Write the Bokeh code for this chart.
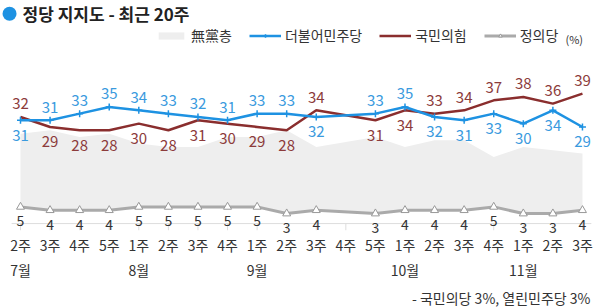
from bokeh.plotting import figure
from bokeh.models import Range1d, Legend, LegendItem, Label, ColumnDataSource
from bokeh.core.properties import value
from bokeh.embed import file_html
from bokeh.resources import INLINE

weeks = ["2주", "3주", "4주", "5주", "1주", "2주", "3주", "4주", "1주", "2주",
         "3주", "4주", "5주", "1주", "2주", "3주", "4주", "1주", "2주", "3주"]
months = ["7월", "", "", "", "8월", "", "", "", "9월", "", "",
          "", "", "10월", "", "", "", "11월", "", ""]
minju = [31, 31, 33, 35, 34, 33, 32, 31, 33, 33, 32, None, 33, 35, 32, 31, 33, 30, 34, 29]
ppp = [32, 29, 28, 28, 30, 28, 31, 30, 29, 28, 34, None, 31, 34, 33, 34, 37, 38, 36, 39]
justice = [5, 4, 4, 4, 5, 5, 5, 5, 5, 3, 4, None, 3, 4, 4, 4, 5, 3, 3, 4]
nonparty = [27, 28, 26, 27, 24, 23, 23, 26, 26, 28, 23, None, 26, 23, 25, 25, 20, 23, 22, 21]

FONT = "Noto Sans CJK KR"
BLUE = "#1e92e2"
BLUE_T = "#3a9ade"
RED = "#8a2e2e"
RED_T = "#8c3b3b"
GRAY = "#aaaaaa"

idx = list(range(len(weeks)))
valid = [i for i in idx if minju[i] is not None]

src = ColumnDataSource(dict(
    x=valid,
    minju=[minju[i] for i in valid],
    ppp=[ppp[i] for i in valid],
    justice=[justice[i] for i in valid],
    nonparty=[nonparty[i] for i in valid],
    mj_t=[str(minju[i]) for i in valid],
    pp_t=[str(ppp[i]) for i in valid],
    js_t=[str(justice[i]) for i in valid],
    mj_off=[-13 if minju[i] > ppp[i] else 15 for i in valid],
    pp_off=[-13 if ppp[i] > minju[i] else 15 for i in valid],
))

p = figure(width=600, height=308, output_backend="svg", toolbar_location=None,
           x_range=Range1d(-0.676, 19.61), y_range=Range1d(-25.5, 66.97),
           min_border=0, outline_line_color=None)
p.xaxis.visible = False
p.yaxis.visible = False
p.xgrid.visible = False
p.ygrid.visible = False
p.background_fill_color = "white"
p.border_fill_color = "white"

# unaffiliated area
area = p.varea(x="x", y1="justice", y2="nonparty", source=src, fill_color="#eeeeee")

# baseline and ticks
p.segment(x0=[-0.3], y0=[0], x1=[19.3], y1=[0], line_color="#dddddd", line_width=1)
p.segment(x0=idx, y0=[0] * len(idx), x1=idx, y1=[-2] * len(idx), line_color="#dddddd", line_width=1)

# lines
jl = p.line("x", "justice", source=src, line_color=GRAY, line_width=3)
jm = p.scatter("x", "justice", source=src, marker="triangle", size=8,
               fill_color="white", line_color="#999999", line_width=1)
rl = p.line("x", "ppp", source=src, line_color=RED, line_width=2.5)
bl = p.line("x", "minju", source=src, line_color=BLUE, line_width=2.5)
bm = p.scatter("x", "minju", source=src, marker="cross", size=7, line_color=BLUE, line_width=1.5)

# data labels
p.text("x", "minju", text="mj_t", source=src, y_offset="mj_off", text_align="center",
       text_baseline="middle", text_font=value(FONT), text_font_size="15px", text_color=BLUE_T)
p.text("x", "ppp", text="pp_t", source=src, y_offset="pp_off", text_align="center",
       text_baseline="middle", text_font=value(FONT), text_font_size="15px", text_color=RED_T)
p.text("x", "justice", text="js_t", source=src, y_offset=14, text_align="center",
       text_baseline="middle", text_font=value(FONT), text_font_size="14px", text_color="#333333")

# x labels
p.text(x=idx, y=[0] * len(idx), text=weeks, y_offset=21, text_align="center",
       text_baseline="middle", text_font=value(FONT), text_font_size="14px", text_color="#333333")
p.text(x=idx, y=[0] * len(idx), text=months, y_offset=46, text_align="center",
       text_baseline="middle", text_font=value(FONT), text_font_size="14px", text_color="#333333")

# title
p.scatter(x=[-0.37], y=[63.0], marker="circle", size=14, fill_color=BLUE, line_color=None)
p.add_layout(Label(x=22, y=308 - 13, x_units="screen", y_units="screen",
                   text="정당 지지도 - 최근 20주", text_font=FONT, text_font_size="17px",
                   text_font_style="bold", text_baseline="middle", text_color="#222222"))

legend = Legend(items=[
    LegendItem(label="無黨층", renderers=[area]),
    LegendItem(label="더불어민주당", renderers=[bl, bm]),
    LegendItem(label="국민의힘", renderers=[rl]),
    LegendItem(label="정의당", renderers=[jl, jm]),
], orientation="horizontal", location=(155, 308 - 31 - 14),
    glyph_width=32, glyph_height=9, label_height=14, label_standoff=4, spacing=17,
    padding=0, margin=0, border_line_color=None, background_fill_alpha=0,
    label_text_font=FONT, label_text_font_size="14px", label_text_color="#333333")
p.add_layout(legend)
p.add_layout(Label(x=565, y=308 - 38, x_units="screen", y_units="screen",
                   text="(%)", text_font=FONT, text_font_size="11px",
                   text_baseline="middle", text_color="#333333"))

# note
p.add_layout(Label(x=590, y=308 - 297, x_units="screen", y_units="screen",
                   text="- 국민의당 3%, 열린민주당 3%", text_font=FONT, text_font_size="14px",
                   text_align="right", text_baseline="middle", text_color="#333333"))

open("out.html", "w").write(file_html(p, INLINE))
